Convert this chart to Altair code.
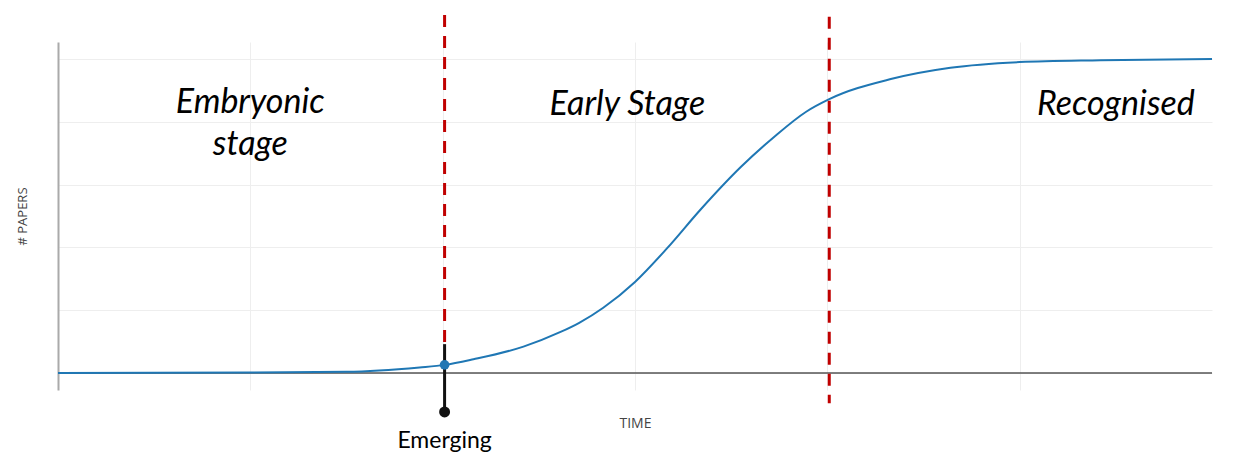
import altair as alt
import pandas as pd

# Curve (time in grid units, papers in grid units)
time_vals = [0, 1, 1.5, 1.88, 2.01, 2.16, 2.42, 2.61, 2.71, 2.835, 3.0, 3.165,
             3.34, 3.55, 3.72, 3.89, 4.01, 4.33, 4.64, 5.0, 5.42, 6.0]
paper_vals = [0.0, 0.01, 0.02, 0.09, 0.13, 0.22, 0.42, 0.65, 0.80, 1.04, 1.45,
              1.98, 2.6, 3.28, 3.75, 4.16, 4.36, 4.68, 4.86, 4.95, 4.98, 5.0]

# Stage boundaries
boundary_x = [2.01, 4.01]
boundary_top = [5.70, 5.67]
boundary_bottom = [0.46, -0.48]

# Emerging point
emerging_x = [2.01]
emerging_y = [0.13]
emerging_stem_bottom = [-0.62]

# Stage labels
stage_labels = ["Embryonic", "stage", "Early Stage", "Recognised"]
stage_x = [1.0, 1.0, 2.96, 5.5]
stage_y = [4.14, 3.47, 4.11, 4.11]

X_DOMAIN = [0, 6]
Y_DOMAIN = [-0.27, 5.27]

curve_df = pd.DataFrame({"t": time_vals, "p": paper_vals})
bound_df = pd.DataFrame({"t": boundary_x, "top": boundary_top, "bot": boundary_bottom})
emerg_df = pd.DataFrame({"t": emerging_x, "p": emerging_y, "bot": emerging_stem_bottom})
label_df = pd.DataFrame({"label": stage_labels, "t": stage_x, "p": stage_y})

xs = alt.Scale(domain=X_DOMAIN, nice=False, zero=False)
ys = alt.Scale(domain=Y_DOMAIN, nice=False, zero=False)

x_axis = alt.Axis(
    values=[1, 2, 3, 4, 5], grid=True, gridColor="#eeeeee", gridWidth=1,
    labels=False, ticks=False, domain=False, title="TIME",
    titleFont="Open Sans", titleFontSize=14, titleFontWeight="normal",
    titleColor="#444444", titlePadding=26)
y_axis = alt.Axis(
    values=[0, 1, 2, 3, 4, 5], grid=True, gridColor="#eeeeee", gridWidth=1,
    labels=False, ticks=False, domain=True, domainColor="#aaaaaa",
    domainWidth=2, title="# PAPERS", titleFont="Open Sans",
    titleFontSize=13, titleFontWeight="normal", titleColor="#444444",
    titlePadding=29)


def X(field):
    return alt.X(field, type="quantitative", scale=xs, axis=x_axis)


def Y(field):
    return alt.Y(field, type="quantitative", scale=ys, axis=y_axis)


curve = alt.Chart(curve_df).mark_line(
    color="#1f77b4", strokeWidth=2, interpolate="monotone", clip=False
).encode(x=X("t"), y=Y("p"))

zero_rule = alt.Chart(pd.DataFrame({"p": [0]})).mark_rule(
    color="#555555", strokeWidth=1.5
).encode(y=Y("p"))

bounds = alt.Chart(bound_df).mark_rule(
    color="#c00000", strokeWidth=3, strokeDash=[12, 9], clip=False
).encode(x=X("t"), y=Y("top"), y2="bot:Q")

stem = alt.Chart(emerg_df).mark_rule(color="#111111", strokeWidth=3, clip=False).encode(
    x=X("t"), y=Y("bot"), y2=alt.Y2(datum=0.46),
)

stem_dot = alt.Chart(emerg_df).mark_circle(color="#111111", size=120, opacity=1, clip=False).encode(
    x=X("t"), y=Y("bot"),
)

blue_dot = alt.Chart(emerg_df).mark_circle(color="#2277b4", size=95, opacity=1).encode(
    x=X("t"), y=Y("p"),
)

emerg_text = alt.Chart(emerg_df).mark_text(
    text="Emerging", font="Lato", fontSize=23, color="#000000",
    align="center", baseline="alphabetic", clip=False
).encode(x=X("t"), y=Y("bot"), yOffset=alt.value(36))

labels = alt.Chart(label_df).mark_text(
    font="Lato", fontSize=34, fontStyle="italic", color="#000000",
    align="center", baseline="alphabetic"
).encode(x=X("t"), y=Y("p"), text="label:N")

chart = alt.layer(
    zero_rule, curve, bounds, stem, stem_dot, blue_dot, emerg_text, labels
).properties(
    width=1154, height=348,
    padding={"left": 50, "top": 34, "right": 15, "bottom": 80},
    autosize=alt.AutoSizeParams(type="none"),
).configure_view(stroke=None)

chart.save("out.html", embed_options={"renderer": "svg", "actions": False})
